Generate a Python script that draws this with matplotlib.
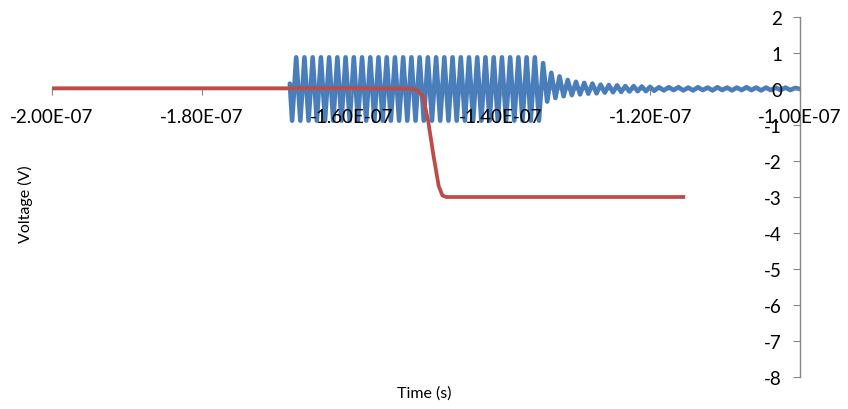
import numpy as np
import matplotlib.pyplot as plt
from matplotlib.ticker import FuncFormatter

plt.rcParams['font.family'] = ['Lato', 'DejaVu Sans']
plt.rcParams['axes.unicode_minus'] = False

# red trace: step from 0 V down to -3 V (time in ns, voltage in V)
red_t_ns = [-200.0, -160.0, -152.0, -151.2, -150.4, -149.7, -149.0,
            -148.3, -147.8, -147.3, -115.6]
red_v = [0.02, 0.02, 0.01, -0.03, -0.2, -0.9, -1.85,
         -2.7, -2.96, -3.0, -3.0]

# blue trace: extrema of the ringing burst (time in ns, voltage in V)
blue_t_ns = [
    -168.20, -167.90, -167.35, -166.80, -166.25, -165.70, -165.15, -164.60, -164.05, -163.50,
    -162.95, -162.40, -161.85, -161.30, -160.75, -160.20, -159.65, -159.10, -158.55, -158.00,
    -157.45, -156.90, -156.35, -155.80, -155.25, -154.70, -154.15, -153.60, -153.05, -152.50,
    -151.95, -151.40, -150.85, -150.30, -149.75, -149.20, -148.65, -148.10, -147.55, -147.00,
    -146.45, -145.90, -145.35, -144.80, -144.25, -143.70, -143.15, -142.60, -142.05, -141.50,
    -140.95, -140.40, -139.85, -139.30, -138.75, -138.20, -137.65, -137.10, -136.55, -136.00,
    -135.45, -134.90, -134.35, -133.80, -133.25, -132.70, -132.15, -131.60, -131.05, -130.50,
    -129.95, -129.40, -128.85, -128.30, -127.75, -127.20, -126.65, -126.10, -125.55, -125.00,
    -124.45, -123.90, -123.35, -122.80, -122.25, -121.70, -121.15, -120.60, -120.05, -119.50,
    -118.85, -118.20, -117.55, -116.90, -116.25, -115.60, -114.95, -114.30, -113.65, -113.00,
    -112.35, -111.70, -111.05, -110.40, -109.75, -109.10, -108.45, -107.80, -107.15, -106.50,
    -105.85, -105.20, -104.55, -103.90, -103.25, -102.60, -101.95, -101.30, -100.65, -100.00,
]
blue_v = [
    0.15, -0.88, 0.88, -0.88, 0.88, -0.88, 0.88, -0.88, 0.88, -0.88,
    0.88, -0.88, 0.88, -0.88, 0.88, -0.88, 0.88, -0.88, 0.88, -0.88,
    0.88, -0.88, 0.88, -0.88, 0.88, -0.88, 0.88, -0.88, 0.88, -0.88,
    0.88, -0.88, 0.88, -0.88, 0.88, -0.88, 0.88, -0.88, 0.88, -0.88,
    0.88, -0.88, 0.88, -0.88, 0.88, -0.88, 0.88, -0.88, 0.88, -0.88,
    0.88, -0.88, 0.88, -0.88, 0.88, -0.88, 0.88, -0.88, 0.88, -0.88,
    0.88, -0.88, 0.72, -0.35, 0.45, -0.25, 0.35, -0.2, 0.25, -0.17,
    0.2, -0.15, 0.17, -0.13, 0.15, -0.12, 0.12, -0.1, 0.11, -0.09,
    0.1, -0.08, 0.08, -0.07, 0.08, -0.06, 0.07, -0.06, 0.06, -0.05,
    0.05, -0.04, 0.05, -0.03, 0.05, -0.04, 0.04, -0.04, 0.05, -0.03,
    0.04, -0.04, 0.05, -0.03, 0.04, -0.04, 0.04, -0.03, 0.05, -0.03,
    0.04, -0.04, 0.04, -0.03, 0.04, -0.03, 0.04, -0.03, 0.03, 0.0,
]

x_ticks = [-2.0e-7, -1.8e-7, -1.6e-7, -1.4e-7, -1.2e-7, -1.0e-7]
y_ticks = [2, 1, 0, -1, -2, -3, -4, -5, -6, -7, -8]

grey = '#868686'
blue = '#4a7ebb'
red = '#be4b48'

fig = plt.figure(figsize=(8.48, 4.10), dpi=100)
ax = fig.add_axes([52 / 848, 1 - 378 / 410, 748 / 848, 360 / 410])
ax.set_axisbelow(False)  # tick labels drawn over the traces

ax.plot(np.array(blue_t_ns) * 1e-9, blue_v, color=blue, lw=3.3,
        solid_joinstyle='round', solid_capstyle='round', zorder=2.1)
ax.plot(np.array(red_t_ns) * 1e-9, red_v, color=red, lw=2.7,
        solid_joinstyle='round', zorder=2.2)

ax.set_xlim(-2.0e-7, -1.0e-7)
ax.set_ylim(-8, 2)
ax.set_xticks(x_ticks)
ax.set_yticks(y_ticks)
ax.xaxis.set_major_formatter(FuncFormatter(lambda v, p: f'{v:.2E}'))
ax.yaxis.set_major_formatter(FuncFormatter(lambda v, p: f'{int(round(v))}'))

for s in ['top', 'right']:
    ax.spines[s].set_visible(False)
ax.spines['bottom'].set_position(('data', 0))
ax.spines['left'].set_position(('data', -1.0e-7))
for s in ['bottom', 'left']:
    ax.spines[s].set_color(grey)
    ax.spines[s].set_linewidth(1.0)
    ax.spines[s].set_zorder(1)

ax.tick_params(axis='x', direction='out', length=4, color=grey, labelsize=13.5, pad=10)
ax.tick_params(axis='y', direction='out', length=5, color=grey, labelsize=13.5, pad=8)

fig.text(25 / 848, 1 - 204 / 410, 'Voltage (V)', rotation=90,
         ha='center', va='center', fontsize=11.5)
fig.text(424 / 848, 1 - 394 / 410, 'Time (s)', ha='center', va='center', fontsize=11.5)

fig.savefig('out.png', dpi=100)
